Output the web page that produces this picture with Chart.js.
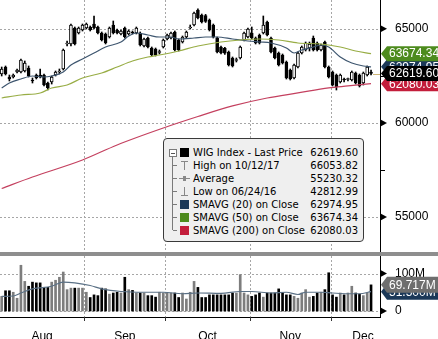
<!DOCTYPE html>
<html><head><meta charset="utf-8">
<script src="https://cdn.jsdelivr.net/npm/chart.js@4.4.1/dist/chart.umd.min.js"></script>
<style>
html,body{margin:0;padding:0;background:#fff;}
#wrap{position:relative;width:438px;height:339px;overflow:hidden;background:#fff;}
#c1{position:absolute;left:0;top:0;}
#c2{position:absolute;left:0;top:253px;}
#sep{position:absolute;left:0;top:252px;width:438px;height:4px;background:#8e8e8e;}
#legend{position:absolute;left:163px;top:138px;width:199px;height:102px;border:1px solid #3a3a3a;border-radius:4px;background:#efefef;font-family:"DejaVu Sans",sans-serif;font-size:10px;color:#000;}
.row{position:absolute;left:0;width:199px;height:13px;line-height:13px;white-space:nowrap;}
.lab{position:absolute;left:29px;top:0;}
.val{position:absolute;right:5px;top:0;}
.sq{position:absolute;left:16px;top:2px;width:9px;height:9px;}
.tl{position:absolute;background:#7a7a7a;}
</style></head>
<body>
<div id="wrap">
<canvas id="c1" width="438" height="252"></canvas>
<canvas id="c2" width="438" height="86"></canvas>
<div id="sep"></div>
<div id="legend"></div>
</div>
<script>
// ---------- data ----------
const dates = [
'08/01','08/02','08/03','08/04','08/07','08/08','08/09','08/10','08/11','08/14','08/16','08/17','08/18','08/21','08/22','08/23','08/24','08/25','08/28','08/29','08/30','08/31',
'09/01','09/04','09/05','09/06','09/07','09/08','09/11','09/12','09/13','09/14','09/15','09/18','09/19','09/20','09/21','09/22','09/25','09/26','09/27','09/28','09/29',
'10/02','10/03','10/04','10/05','10/06','10/09','10/10','10/11','10/12','10/13','10/16','10/17','10/18','10/19','10/20','10/23','10/24','10/25','10/26','10/27','10/30','10/31',
'11/02','11/03','11/06','11/07','11/08','11/09','11/10','11/13','11/14','11/15','11/16','11/17','11/20','11/21','11/22','11/23','11/24','11/27','11/28','11/29','11/30',
'12/01','12/04','12/05','12/06','12/07','12/08','12/11','12/12','12/13','12/14','12/15'];

const open = [62595,62967,62436,62436,62701,62701,62755,62914,62277,62542,
62542,62542,62117,62171,62542,62701,62861,64188,64188,65037,
64772,64931,65037,65090,65249,65090,64772,64719,64559,65196,
64931,64719,65037,64719,64825,64772,64772,64082,64506,63975,
63922,63736,64029,64453,64506,64825,64400,64294,64559,65037,
65196,65990,65727,65700,65462,65196,64506,64029,63960,63763,
63445,63310,63445,64400,64559,64772,64506,64665,64772,65355,
64506,63975,63710,63604,63232,62808,62383,62967,63710,63869,
63975,64506,64241,63869,64294,62967,62701,62542,62171,62303,
62303,62277,62648,62542,62117,62542,62701];
const high = [62967,63020,62542,62595,62861,63391,63285,63020,62383,62595,
62861,62595,62171,62489,62755,62861,63922,64347,65249,65090,
65090,65249,65302,65143,65674,65143,64825,64772,65090,65409,
64984,64931,65090,64931,64878,65090,64825,64506,64559,64029,
63975,63869,64453,64719,64825,64878,64453,64612,64878,65196,
65886,66053.82,65780,65760,65515,65249,64559,64082,64010,63816,
63498,63445,64082,64825,65037,65090,64559,64719,65674,65409,
64559,64029,63763,63657,63285,62861,63126,63763,64082,64294,
64294,64612,64294,64188,64347,63020,62755,62595,62595,62383,
62383,62755,62701,62595,62701,63020,62808];
const low = [62489,62542,62224,62383,62648,62648,62701,62436,62117,62330,
62383,61958,61746,62064,62489,62595,62808,64082,64082,64135,
64719,64878,64984,64878,64984,64719,64347,64188,64506,64719,
64719,64665,64506,64665,64719,64719,64082,64029,63975,63551,
63551,63657,63975,64400,64453,63816,63816,64241,64506,64984,
65143,65515,65302,65330,64878,64506,63710,63657,63640,63020,
62967,63232,63391,64347,64506,64453,64188,64188,64719,64612,
63710,63391,63020,63126,62330,62277,62330,62914,63657,63816,
63816,63816,63816,63816,62914,62383,61958,61746,62117,62171,
62224,62224,62064,61905,62011,62489,62542];
const close = [62861,62595,62330,62542,62808,63338,63179,62489,62224,62383,
62436,62011,61852,62436,62701,62755,63869,64241,65196,64188,
65037,65196,65249,64931,65037,64772,64400,64241,65037,64772,
64772,64878,64559,64878,64772,65037,64135,64453,64029,63604,
63604,63763,64400,64665,64772,63869,63869,64559,64825,65090,
65833,65568,65355,65380,64931,64559,63763,63710,63700,63073,
63020,63338,64029,64772,64984,64506,64241,64241,65196,64665,
63763,63445,63073,63179,62383,62330,63073,63710,64029,64241,
64188,63869,63869,64135,62967,62436,62011,61905,62542,62277,
62330,62701,62117,61958,62648,62967,62619.60];

// volume in millions
const volume = [39,54,54,50,34,122,79,66,77,75,
75,63,63,77,82,90,104,57,61,61,
61,61,50,36,43,41,61,59,45,48,
50,48,90,57,55,48,48,48,41,41,
37,50,48,48,48,48,36,48,32,50,
79,63,36,36,43,43,43,43,43,43,
48,48,97,48,43,39,43,48,37,48,
48,48,59,48,43,43,39,34,48,57,
37,39,48,50,57,102,43,37,48,43,
48,66,48,45,41,48,69.717];

// moving averages (day index -> value)
const sma20At = [0,2,5,8,11,13,16,18,21,24,27,31,33,35,38,41,44,46,50,53,56,60,64,67,70,74,76,78,81,83,85,88,91,94,96];
const sma20 = [61852,62117,62330,62489,62436,62489,62701,63073,63391,63710,64029,64294,64612,64772,64665,64559,64559,64453,64506,64559,64559,64453,64347,64294,64241,63975,63710,63869,64029,64135,64029,63498,63179,63020,62974.95];
const sma50At = [0,5,10,13,17,21,26,30,34,38,41,46,51,57,62,67,72,77,83,88,92,96];
const sma50 = [61322,61481,61587,61852,62011,62383,62648,62967,63285,63498,63604,63816,64082,64294,64400,64453,64400,64241,64188,64029,63816,63674.34];
const sma200At = [0,8,21,30,42,51,60,69,77,85,90,96];
const sma200 = [56520,57130,58030,58830,59730,60340,60900,61320,61590,61860,61960,62080.03];
const volSmaAt = [0,3,5,8,13,16,19,23,26,31,37,42,47,51,57,62,65,70,74,77,79,83,86,90,93,96];
const volSma = [39,40,48,59,66,77,75,68,59,52,50,50,46,48,47,52,52,48,50,44,50,50,48,46,46,51.5];

const priceTicks = [55000,57500,60000,62500,65000];
const volTicks = [0,100];
const monthNums = [8,9,10,11,12];
const monthLabels = ['Aug','Sep','Oct','Nov','Dec'];

const legendLabels = ['WIG Index - Last Price','High on 10/12/17','Average','Low on 06/24/16','SMAVG (20) on Close','SMAVG (50) on Close','SMAVG (200) on Close'];
const legendValues = [62619.60,66053.82,55230.32,42812.99,62974.95,63674.34,62080.03];

// ---------- styles / layout ----------
const X_MIN = -0.44, X_MAX = 98.33;
const P_MIN = 53147, P_MAX = 66523;
const V_MIN = -16, V_MAX = 146.7;
const C_SMA20 = '#3e566f', C_SMA50 = '#98ad45', C_SMA200 = '#c4405f', C_VSMA = '#5b7186';
const T_SMA20 = '#1b3858', T_SMA50 = '#4d8b1d', T_SMA200 = '#c31d3b';
const GRID = '#a6a6a6';
const DASH = [2,2];
Chart.defaults.font.family = '"Liberation Sans", Arial, sans-serif';
Chart.defaults.font.size = 12;
Chart.defaults.color = '#000';

// month boundaries & label positions derived from the dates
const mOf = d => parseInt(d.slice(0,2),10);
const boundaries = [];
for (let i=1;i<dates.length;i++) if (mOf(dates[i])!==mOf(dates[i-1])) boundaries.push(i-0.5);
const spans = [X_MIN-0.06].concat(boundaries).concat([X_MAX+4]);
const labelPos = monthNums.map((m,k)=> (spans[k]+spans[k+1])/2);

const idx = dates.map((d,i)=>i);
const pts = (xs, ys) => xs.map((x,k)=>({x:x, y:ys[k]}));

function drawArrow(ctx, x, y){
  ctx.beginPath(); ctx.moveTo(x, y-3.5); ctx.lineTo(x+6.5, y); ctx.lineTo(x, y+3.5); ctx.closePath();
  ctx.fillStyle = '#000'; ctx.fill();
}
function drawTag(ctx, x, y, fill, text, h){
  const s = 6, w = 70;
  ctx.beginPath();
  ctx.moveTo(x, y); ctx.lineTo(x+s, y-h/2); ctx.lineTo(x+w, y-h/2); ctx.lineTo(x+w, y+h/2); ctx.lineTo(x+s, y+h/2); ctx.closePath();
  ctx.fillStyle = fill; ctx.fill();
  ctx.fillStyle = '#fff'; ctx.font = '12px "Liberation Sans", Arial, sans-serif';
  ctx.textBaseline = 'middle'; ctx.textAlign = 'left';
  ctx.fillText(text, x+8, y+0.5);
}
function hLine(ctx, x1, x2, y){ const yy=Math.round(y)+0.5; ctx.beginPath(); ctx.moveTo(x1,yy); ctx.lineTo(x2,yy); ctx.stroke(); }
function vLine(ctx, x, y1, y2){ const xx=Math.round(x)+0.5; ctx.beginPath(); ctx.moveTo(xx,y1); ctx.lineTo(xx,y2); ctx.stroke(); }
const last = a => a[a.length-1];

// dotted grid drawn from the chart's own scales
function gridPlugin(yValues){
  return {
    id: 'dotGrid',
    beforeDatasetsDraw(chart){
      const {ctx, chartArea:a, scales:{x, y}} = chart;
      ctx.save(); ctx.strokeStyle = GRID; ctx.lineWidth = 1; ctx.setLineDash(DASH);
      yValues.forEach(v=>hLine(ctx, a.left, a.right, y.getPixelForValue(v)));
      boundaries.forEach(b=>vLine(ctx, x.getPixelForValue(b), a.top, a.bottom));
      ctx.restore();
    }
  };
}

const pricePlugin = {
  id: 'priceDeco',
  afterDraw(chart){
    const {ctx, chartArea:a, scales:{x, y}} = chart;
    ctx.save();
    ctx.strokeStyle = '#000'; ctx.lineWidth = 1;
    priceTicks.filter(v=>v%5000!==0).forEach(v=>hLine(ctx, a.right, a.right+5, y.getPixelForValue(v)));
    priceTicks.filter(v=>v%5000===0).forEach(v=>drawArrow(ctx, a.right+0.5, y.getPixelForValue(v)));
    const li = close.length-1;
    ctx.strokeStyle = '#cdb575';
    hLine(ctx, x.getPixelForValue(li)+2, a.right, y.getPixelForValue(close[li]));
    [[last(sma200), T_SMA200],[last(sma20), T_SMA20],[last(sma50), T_SMA50],[last(close), '#000']].forEach(([v,c])=>{
      drawTag(ctx, a.right+1, y.getPixelForValue(v), c, v.toFixed(2), 15);
    });
    ctx.restore();
  }
};
const volPlugin = {
  id: 'volDeco',
  afterDraw(chart){
    const {ctx, chartArea:a, scales:{x, y}} = chart;
    ctx.save();
    ctx.strokeStyle = '#333'; ctx.lineWidth = 1;
    boundaries.forEach(b=>vLine(ctx, x.getPixelForValue(b), a.bottom, a.bottom+4));
    volTicks.forEach(v=>drawArrow(ctx, a.right+0.5, y.getPixelForValue(v)));
    drawTag(ctx, a.right+1, y.getPixelForValue(last(volSma)), T_SMA20, last(volSma).toFixed(3)+'M', 16);
    drawTag(ctx, a.right+1, y.getPixelForValue(last(volume)), '#6e6e6e', last(volume).toFixed(3)+'M', 16);
    ctx.restore();
  }
};

// ---------- price chart ----------
new Chart(document.getElementById('c1'), {
  type: 'bar',
  data: { datasets: [
    {type:'line', data: pts(sma200At, sma200), borderColor:C_SMA200, borderWidth:1.2, pointRadius:0, cubicInterpolationMode:'monotone', order:1},
    {type:'line', data: pts(sma50At, sma50), borderColor:C_SMA50, borderWidth:1.2, pointRadius:0, cubicInterpolationMode:'monotone', order:1},
    {type:'line', data: pts(sma20At, sma20), borderColor:C_SMA20, borderWidth:1.2, pointRadius:0, cubicInterpolationMode:'monotone', order:1},
    {data: idx.map(i=>({x:i, y:[low[i], high[i]]})), backgroundColor:'#000', barThickness:1, grouped:false, order:3},
    {data: idx.map(i=>({x:i, y:[open[i], close[i]]})), backgroundColor: idx.map(i=> close[i]>=open[i] ? '#fff' : '#000'),
     borderColor:'#000', borderWidth:1, borderSkipped:false, barThickness:3, minBarLength:1, grouped:false, order:2}
  ]},
  options: {
    responsive:false, animation:false, events:[],
    layout:{padding:0},
    plugins:{legend:{display:false}, tooltip:{enabled:false}},
    scales:{
      x:{type:'linear', min:X_MIN, max:X_MAX, offset:false, display:true,
         afterBuildTicks: s=>{ s.ticks = boundaries.map(v=>({value:v})); },
         ticks:{display:false}, grid:{display:false}, border:{display:false},
         afterFit: s=>{ s.height = 0; s.paddingLeft = 0; s.paddingRight = 0; }},
      y:{type:'linear', position:'right', min:P_MIN, max:P_MAX,
         afterBuildTicks: s=>{ s.ticks = priceTicks.map(v=>({value:v})); },
         ticks:{callback: v => v%5000===0 ? String(v) : '', padding:7, autoSkip:false},
         grid:{display:false},
         border:{display:true, color:'#000', width:1},
         afterFit: s=>{ s.width = 58; s.paddingTop = 0; s.paddingBottom = 0; }}
    }
  },
  plugins:[gridPlugin(priceTicks.filter(v=>v%5000===0)), pricePlugin]
});

// ---------- volume chart ----------
new Chart(document.getElementById('c2'), {
  type: 'bar',
  data: { datasets: [
    {type:'line', data: pts(volSmaAt, volSma), borderColor:C_VSMA, borderWidth:1.2, pointRadius:0, cubicInterpolationMode:'monotone', order:1},
    {data: idx.map(i=>({x:i, y:volume[i]})), backgroundColor: idx.map(i=> close[i]>=open[i] ? '#7d7d7d' : '#000'),
     barThickness:2, grouped:false, order:2}
  ]},
  options: {
    responsive:false, animation:false, events:[],
    layout:{padding:{top:3}},
    plugins:{legend:{display:false}, tooltip:{enabled:false}},
    scales:{
      x:{type:'linear', min:X_MIN, max:X_MAX, offset:false,
         afterBuildTicks: s=>{ s.ticks = labelPos.map(v=>({value:v})); },
         ticks:{autoSkip:false, maxRotation:0, padding:4,
                callback: (v,k) => monthLabels[k]},
         grid:{display:false},
         border:{display:true, color:'#000', width:1},
         afterFit: s=>{ s.height = 22; s.paddingLeft = 0; s.paddingRight = 0; }},
      y:{type:'linear', position:'right', min:V_MIN, max:V_MAX,
         afterBuildTicks: s=>{ s.ticks = volTicks.map(v=>({value:v})); },
         ticks:{callback: v => v===0 ? '0' : v+'M', padding:7, autoSkip:false},
         grid:{display:false},
         border:{display:true, color:'#000', width:1},
         afterFit: s=>{ s.width = 58; s.paddingTop = 0; s.paddingBottom = 0; }}
    }
  },
  plugins:[gridPlugin(volTicks), volPlugin]
});

// ---------- legend box ----------
const legendSwatch = ['#000000', null, null, null, T_SMA20, T_SMA50, T_SMA200];
const legendIcon = ['sq','high','avg','low','sq','sq','sq'];
const lg = document.getElementById('legend');
function el(cls, css, parent){ const d=document.createElement('div'); if(cls) d.className=cls; Object.assign(d.style, css||{}); (parent||lg).appendChild(d); return d; }
el('tl', {left:'8px', top:'17px', width:'1px', height:'74px'});
const box = el('', {position:'absolute', left:'5px', top:'10px', width:'6px', height:'6px', border:'1px solid #7a7a7a', background:'#fff'});
el('', {position:'absolute', left:'1px', top:'2.5px', width:'4px', height:'1px', background:'#555'}, box);
legendLabels.forEach((t,i)=>{
  const r = el('row', {top:(6.5+13*i)+'px'});
  if (i>0) el('tl', {left:'9px', top:'6px', width:'4px', height:'1px'}, r);
  const ic = legendIcon[i];
  if (ic==='sq') el('sq', {background:legendSwatch[i]}, r);
  else if (ic==='high'){ el('tl',{left:'17px',top:'2px',width:'7px',height:'1px',background:'#888'},r); el('tl',{left:'20px',top:'2px',width:'1px',height:'9px',background:'#888'},r); }
  else if (ic==='low'){ el('tl',{left:'17px',top:'10px',width:'7px',height:'1px',background:'#888'},r); el('tl',{left:'20px',top:'2px',width:'1px',height:'9px',background:'#888'},r); }
  else { el('tl',{left:'15px',top:'6px',width:'11px',height:'1px',background:'#888'},r); el('tl',{left:'19px',top:'4px',width:'3px',height:'5px',background:'#888'},r); }
  const l = el('lab', {}, r); l.textContent = t;
  const v = el('val', {}, r); v.textContent = legendValues[i].toFixed(2);
});
</script>
</body></html>
